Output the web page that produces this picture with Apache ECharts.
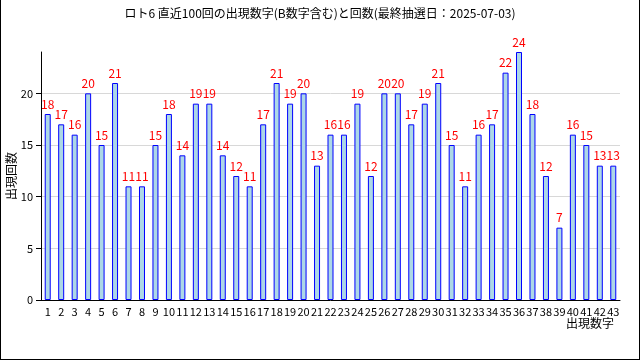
<!DOCTYPE html>
<html><head><meta charset="utf-8">
<script src="https://cdn.jsdelivr.net/npm/echarts@6/dist/echarts.min.js"></script>
<style>html,body{margin:0;padding:0;background:#fff}#c{width:640px;height:360px}</style>
</head><body><div id="c"></div>
<script>
const categories = ['1','2','3','4','5','6','7','8','9','10','11','12','13','14','15','16','17','18','19','20','21','22','23','24','25','26','27','28','29','30','31','32','33','34','35','36','37','38','39','40','41','42','43'];
const counts = [18,17,16,20,15,21,11,11,15,18,14,19,19,14,12,11,17,21,19,20,13,16,16,19,12,20,20,17,19,21,15,11,16,17,22,24,18,12,7,16,15,13,13];
const titleText = 'ロト6 直近100回の出現数字(B数字含む)と回数(最終抽選日：2025-07-03)';
const xName = '出現数字';
const yName = '出現回数';
const FONT = '"Noto Sans CJK JP", "DejaVu Sans", sans-serif';

const chart = echarts.init(document.getElementById('c'), null, {renderer:'canvas'});
chart.setOption({
  animation:false,
  backgroundColor:'#fff',
  title:{text:titleText,left:'center',top:2,textStyle:{fontFamily:FONT,fontSize:12,fontWeight:'normal',color:'#000'}},
  grid:{left:41,right:20,top:52,bottom:60,containLabel:false},
  xAxis:{type:'category',data:categories,
    axisLine:{lineStyle:{color:'#000',width:1}},
    axisTick:{inside:true,length:5,lineStyle:{color:'#000'}},
    axisLabel:{interval:0,fontFamily:FONT,fontSize:11,color:'#000',margin:6}},
  yAxis:{type:'value',min:0,max:24,interval:5,
    axisLine:{show:true,lineStyle:{color:'#000',width:1}},
    axisTick:{show:true,length:5,lineStyle:{color:'#000'}},
    axisLabel:{showMaxLabel:false,fontFamily:FONT,fontSize:11,color:'#000',margin:8},
    splitLine:{show:true,showMaxLine:false,lineStyle:{color:'#d8d8d8',width:1}}},
  series:[{type:'bar',data:counts,barWidth:6,
    itemStyle:{color:'#add8e6',borderColor:'#0000ff',borderWidth:1},
    label:{show:true,position:'top',distance:4,color:'#ff0000',fontFamily:FONT,fontSize:12}}],
  graphic:[
    {type:'text',left:566,top:317,style:{text:xName,fontFamily:FONT,fontSize:12,fill:'#000'}},
    {type:'text',x:5,y:200,rotation:Math.PI/2,style:{text:yName,fontFamily:FONT,fontSize:12,fill:'#000'}},
    {type:'line',shape:{x1:0.5,y1:0,x2:0.5,y2:359.5},style:{stroke:'#000',lineWidth:1}},
    {type:'line',shape:{x1:639.5,y1:0,x2:639.5,y2:359.5},style:{stroke:'#000',lineWidth:1}},
    {type:'line',shape:{x1:0,y1:359.5,x2:640,y2:359.5},style:{stroke:'#000',lineWidth:1}}
  ]
});
</script></body></html>
